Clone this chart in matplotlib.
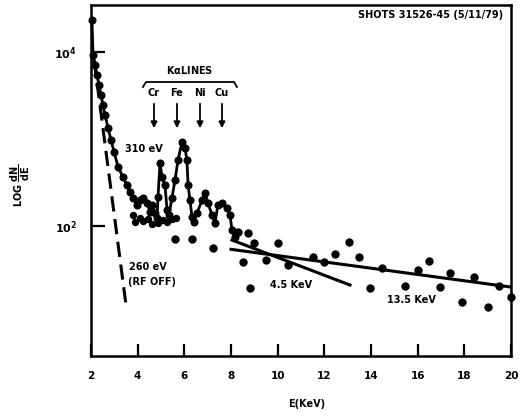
import matplotlib
matplotlib.use('Agg')
import matplotlib.pyplot as plt
from matplotlib.ticker import NullLocator

plt.rcParams['font.family'] = ['DejaVu Sans']
plt.rcParams['mathtext.default'] = 'bf'

# ---- data ----
spec_E = [2.04, 2.09, 2.17, 2.26, 2.34, 2.43, 2.51, 2.60, 2.73, 2.86, 2.99, 3.16, 3.37,
          3.54, 3.67, 3.80, 3.97, 4.10, 4.23, 4.40, 4.53, 4.61, 4.74, 4.83, 4.87, 4.96,
          5.04, 5.17, 5.26, 5.34, 5.47, 5.60, 5.73, 5.90, 6.03, 6.11, 6.16, 6.24, 6.33,
          6.41, 6.54, 6.76, 6.89, 7.01, 7.19, 7.31, 7.44, 7.61, 7.83, 7.96, 8.04, 8.17]
spec_y = [23300, 9250, 7100, 5440, 4180, 3200, 2460, 1890, 1340, 970, 710, 477, 366,
          296, 246, 210, 174, 199, 210, 184, 145, 174, 141, 124, 215, 530,
          366, 296, 153, 134, 210, 338, 574, 925, 789, 574, 296, 199, 127,
          111, 141, 199, 239, 184, 134, 108, 174, 184, 161, 134, 90, 75]

loop_E = [3.80, 3.89, 4.10, 4.23, 4.44, 4.61, 4.87, 5.09, 5.26, 5.47, 5.64]
loop_y = [134, 111, 124, 114, 120, 105, 108, 117, 111, 120, 124]

pts_E = [5.60, 6.33, 7.23, 8.30, 8.51, 8.81, 8.73, 8.99, 9.50, 10.01, 10.44, 11.51,
         11.99, 12.46, 13.06, 13.49, 13.96, 14.47, 15.46, 16.02, 16.49, 16.96, 17.39,
         17.90, 18.42, 19.02, 19.49, 20.0]
pts_y = [71, 71, 56, 85, 38.6, 19.4, 83, 64, 40.6, 64, 35.7, 44,
         38.6, 47.6, 65.4, 44, 19.4, 32.9, 20.4, 31.2, 39.6, 19.9, 28.8,
         13.4, 25.9, 11.7, 20.4, 15.3]

fit13_E = [8.0, 20.0]
fit13_y = [54, 19.9]
fit45_E = [8.04, 13.1]
fit45_y = [69, 21]
rfoff_E = [2.13, 3.5]
rfoff_y = [8100, 12.4]

xticks = [2, 4, 6, 8, 10, 12, 14, 16, 18, 20]
yticks = [1e2, 1e4]
ytick_labels = [r'$10^2$', r'$10^4$']
lines_names = ['Cr', 'Fe', 'Ni', 'Cu']
lines_E = [4.70, 5.69, 6.67, 7.61]

# ---- figure ----
W, H = 527, 419
fig = plt.figure(figsize=(W / 100, H / 100), dpi=100)
ax = fig.add_axes([91 / W, 1 - 356 / H, 420 / W, 351 / H])
ax.set_yscale('log')
ax.set_xlim(2, 20)
ax.set_ylim(3.21, 34700)

ax.plot(spec_E, spec_y, '-o', color='k', lw=2.0, ms=4.8, clip_on=False)
ax.plot(loop_E, loop_y, '-o', color='k', lw=1.6, ms=4.3)
ax.plot(pts_E, pts_y, 'o', color='k', ms=5.0, clip_on=False)
ax.plot(fit13_E, fit13_y, '-', color='k', lw=2.2)
ax.plot(fit45_E, fit45_y, '-', color='k', lw=2.2)
ax.plot(rfoff_E, rfoff_y, color='k', lw=2.2, linestyle=(0, (5, 2.5)))

for s in ax.spines.values():
    s.set_linewidth(1.8)

ax.set_xticks(xticks)
ax.set_xticklabels([str(t) for t in xticks], fontweight='bold', fontsize=7.5)
ax.tick_params(axis='x', direction='in', length=9, width=1.6, pad=11)
ax.set_yticks(yticks)
ax.set_yticklabels(ytick_labels, fontsize=8)
ax.yaxis.set_minor_locator(NullLocator())
ax.tick_params(axis='y', direction='in', length=10, width=1.6, pad=10)
ax.tick_params(top=False, right=False)


def fx(px):
    return px / W


def fy(py):
    return 1 - py / H


tk = dict(fontweight='bold', fontsize=7, color='k')
fig.text(fx(503), fy(15), 'SHOTS 31526-45 (5/11/79)', ha='right', va='center', **tk)
fig.text(fx(190), fy(70), r'K$\alpha$LINES', ha='center', va='center', **tk)
# bracket
fig.add_artist(plt.Line2D([fx(143), fx(146), fx(234), fx(237)],
                          [fy(87), fy(82), fy(82), fy(87)], color='k', lw=1.3))
name_px = [154, 177, 200, 222]
for name, px in zip(lines_names, name_px):
    fig.text(fx(px), fy(93), name, ha='center', va='center', **tk)
    ax.annotate('', xy=(fx(px), fy(131)), xytext=(fx(px), fy(101)),
                xycoords='figure fraction', textcoords='figure fraction',
                arrowprops=dict(arrowstyle='-|>', lw=1.3, color='k', mutation_scale=9))

fig.text(fx(125), fy(149), '310 eV', ha='left', va='center', **tk)
fig.text(fx(129), fy(267), '260 eV', ha='left', va='center', **tk)
fig.text(fx(128), fy(282), '(RF OFF)', ha='left', va='center', **tk)
fig.text(fx(270), fy(285), '4.5 KeV', ha='left', va='center', **tk)
fig.text(fx(387), fy(300), '13.5 KeV', ha='left', va='center', **tk)
fig.text(fx(307), fy(404), 'E(KeV)', ha='center', va='center', **tk)
fig.text(fx(20), fy(185), r'LOG $\dfrac{dN}{dE}$', rotation=90, ha='center', va='center',
         fontweight='bold', fontsize=7)

fig.savefig('out.png', dpi=100, facecolor='white')
